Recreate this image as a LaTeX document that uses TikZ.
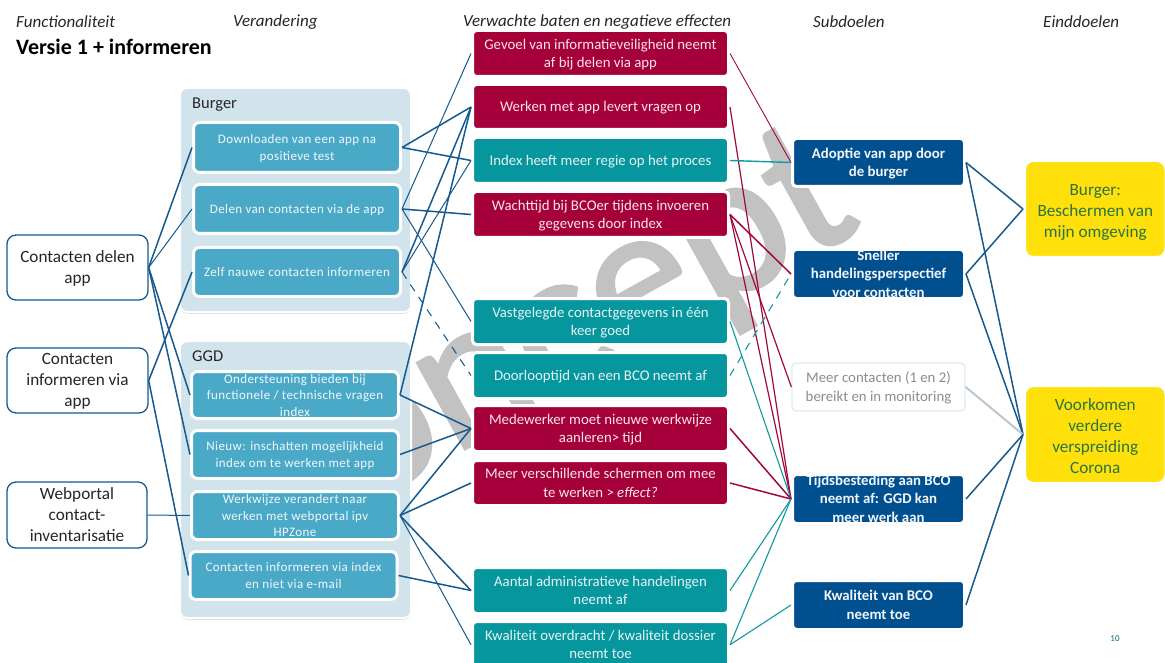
\documentclass[tikz,border=0pt]{standalone}
\usepackage{fontspec}
\setmainfont{Carlito}
\newfontfamily\wm[FakeBold=1.6]{Carlito}
\newfontfamily\spaced[LetterSpace=3]{Carlito}
\usetikzlibrary{shadows}
\definecolor{linkblue}{HTML}{15598F}
\definecolor{linkred}{HTML}{A3063F}
\definecolor{linkteal}{HTML}{0E9AA0}
\definecolor{itemblue}{HTML}{4BA9C8}
\definecolor{wine}{HTML}{A5003A}
\definecolor{tealbox}{HTML}{05969E}
\definecolor{navy}{HTML}{00508F}
\definecolor{sun}{HTML}{FFE00B}
\definecolor{sunink}{HTML}{2B7440}
\definecolor{groupbg}{HTML}{D1E3EB}
\definecolor{mark}{HTML}{C2C2C2}
\definecolor{pale}{HTML}{DCEBF1}
\def\vcshift{1.2pt}
\newcommand\vc[1]{\vbox to 0pt{\vss\hbox{\begin{tabular}{@{}c@{}}#1\end{tabular}}\vss\kern-2\dimexpr\vcshift\relax}}
\newcommand\mk[7]{\node[#1,minimum width={(#5-#3)*1pt},minimum height={(#6-#4)*1pt}] (#2) at ({(#3+#5)/2},{(#4+#6)/2}) {\vc{#7}};}
\tikzset{
  softshadow/.style={drop shadow={shadow xshift=0pt,shadow yshift=-1.5pt,fill=black!45,opacity=.45}},
  basebox/.style={rectangle,rounded corners=4pt,inner sep=0pt,align=center},
  sourcebox/.style={basebox,rounded corners=9pt,draw=linkblue,line width=1.3pt,fill=white,text=black!85,font=\fontsize{17.2}{21}\selectfont},
  groupbox/.style={basebox,rounded corners=7pt,draw=white,line width=2pt,fill=groupbg,softshadow},
  itembox/.style={basebox,rounded corners=6pt,draw=white,line width=3pt,fill=itemblue,softshadow,text=white!92!itemblue,font=\fontsize{13}{16.5}\spaced\selectfont},
  redbox/.style={basebox,draw=white,line width=3pt,fill=wine,softshadow,text=white!90!wine,font=\fontsize{14.8}{18.5}\selectfont},
  greenbox/.style={basebox,draw=white,line width=3pt,fill=tealbox,softshadow,text=white!90!tealbox,font=\fontsize{14.8}{18.5}\selectfont},
  subbox/.style={basebox,draw=white,line width=3pt,fill=navy,softshadow,text=white!95!navy,font=\fontsize{14.8}{18.5}\bfseries\selectfont},
  palebox/.style={basebox,draw=pale,line width=1.3pt,fill=white,text=black!45,font=\fontsize{14.8}{18.5}\selectfont},
  goalbox/.style={basebox,rounded corners=9pt,draw=white,line width=3pt,fill=sun,softshadow,text=sunink,font=\fontsize{17.2}{21}\selectfont,execute at begin node={\def\vcshift{3pt}}},
  headtext/.style={anchor=west,inner sep=0pt,text=black!85,font=\fontsize{17}{19}\itshape\selectfont},
  bl/.style={draw=linkblue,line width=1.5pt},
  blt/.style={draw=linkblue,line width=1pt},
  rd/.style={draw=linkred,line width=1.2pt},
  tl/.style={draw=linkteal,line width=1.1pt}
}
\begin{document}
\begin{tikzpicture}[x=1pt,y=-1pt]
\useasboundingbox (0,0) rectangle (1165,663);
\clip (0,0) rectangle (1165,663);
\node[rotate=29,text=mark,inner sep=0pt,font=\fontsize{205}{205}\wm\selectfont] (watermark) at (540,350) {Concept};
\node[headtext] (h1) at (16,22) {Functionaliteit};
\node[headtext] (h2) at (233,22) {Verandering};
\node[headtext] (h3) at (463,22) {Verwachte baten en negatieve effecten};
\node[headtext] (h4) at (813,22) {Subdoelen};
\node[headtext] (h5) at (1043,22) {Einddoelen};
\node[anchor=west,inner sep=0pt,font=\fontsize{22}{26}\bfseries\selectfont] (title) at (16,47) {Versie 1 + informeren};
\node[inner sep=0pt,text=linkteal!70!black,font=\fontsize{9}{11}\selectfont] (pagenr) at (1115,639) {10};

\mk{groupbox}{gb}{180}{88}{411}{312}{}
\mk{groupbox}{gg}{180}{341}{411}{618}{}
\node[anchor=west,inner sep=0pt,text=black!85,font=\fontsize{16.5}{18}\selectfont] (gbt) at (192,105) {Burger};
\node[anchor=west,inner sep=0pt,text=black!85,font=\fontsize{16.5}{18}\selectfont] (ggt) at (192,356) {GGD};

\mk{sourcebox}{sa}{7}{235}{148}{300}{Contacten delen\\app}
\mk{sourcebox}{sb}{7}{348}{148}{413}{Contacten\\informeren via\\app}
\mk{sourcebox}{sc}{7}{482}{147}{548}{Webportal\\contact-\\inventarisatie}

\mk{itembox}{b1}{193.5}{122.5}{400.5}{172.5}{Downloaden van een app na\\positieve test}
\mk{itembox}{b2}{193.5}{184.5}{400.5}{233.5}{Delen van contacten via de app}
\mk{itembox}{b3}{193.5}{247.5}{400.5}{296.5}{Zelf nauwe contacten informeren}
\mk{itembox}{g1}{191.5}{371.5}{398.5}{418.5}{Ondersteuning bieden bij\\functionele / technische vragen\\index}
\mk{itembox}{g2}{191.5}{430.5}{398.5}{478.5}{Nieuw: inschatten mogelijkheid\\index om te werken met app}
\mk{itembox}{g3}{191.5}{491.5}{398.5}{539.5}{Werkwijze verandert naar\\werken met webportal ipv\\HPZone}
\mk{itembox}{g4}{190}{551.5}{397}{599.5}{Contacten informeren via index\\en niet via e-mail}

\mk{redbox}{m1}{472.5}{30.5}{728.5}{76.5}{Gevoel van informatieveiligheid neemt\\af bij delen via app}
\mk{redbox}{m2}{472.5}{84.5}{728.5}{129.5}{Werken met app levert vragen op}
\mk{greenbox}{m3}{472.5}{137.5}{728.5}{183.5}{Index heeft meer regie op het proces}
\mk{redbox}{m4}{472.5}{191.5}{728.5}{237.5}{Wachttijd bij BCOer tijdens invoeren\\gegevens door index}
\mk{greenbox}{m5}{472.5}{298.5}{728.5}{344.5}{Vastgelegde contactgegevens in één\\keer goed}
\mk{greenbox}{m6}{472.5}{352.5}{728.5}{398.5}{Doorlooptijd van een BCO neemt af}
\mk{redbox}{m7}{472.5}{405.5}{728.5}{451.5}{Medewerker moet nieuwe werkwijze\\aanleren> tijd}
\mk{redbox}{m8}{472.5}{460.5}{728.5}{505.5}{Meer verschillende schermen om mee\\te werken > \textit{effect?}}
\mk{greenbox}{m9}{472.5}{567.5}{728.5}{613.5}{Aantal administratieve handelingen\\neemt af}
\mk{greenbox}{m10}{472.5}{621.5}{728.5}{668}{Kwaliteit overdracht / kwaliteit dossier\\neemt toe}

\mk{subbox}{d1}{792.5}{138.5}{964.5}{186.5}{Adoptie van app door\\de burger}
\mk{subbox}{d2}{792.5}{249.5}{964.5}{298.5}{Sneller\\handelingsperspectief\\voor contacten}
\mk{palebox}{d3}{792}{363}{965}{411}{Meer contacten (1 en 2)\\bereikt en in monitoring}
\mk{subbox}{d4}{792.5}{474.5}{964.5}{523.5}{Tijdsbesteding aan BCO\\neemt af: GGD kan\\meer werk aan}
\mk{subbox}{d5}{792.5}{580.5}{964.5}{629.5}{Kwaliteit van BCO\\neemt toe}

\mk{goalbox}{e1}{1024.5}{160.5}{1166}{257.5}{Burger:\\Beschermen van\\mijn omgeving}
\mk{goalbox}{e2}{1024.5}{385.5}{1166}{483.5}{Voorkomen\\verdere\\verspreiding\\Corona}

\draw[bl] (sa.east) -- (b1.west);
\draw[blt] (sa.east) -- (b2.west);
\draw[bl] (sa.east) -- (g1.west);
\draw[bl] (sa.east) -- (g2.west);
\draw[bl] (sb.east) -- (b3.west);
\draw[bl] (sb.east) -- (g4.west);
\draw[blt] (sc.east) -- (g3.west);

\draw[bl] (b1.east) -- (m2.west);
\draw[bl] (b1.east) -- (m3.west);
\draw[blt] (b2.east) -- (m1.west);
\draw[bl] (b2.east) -- (m4.west);
\draw[blt] (b2.east) -- (m5.west);
\draw[bl] (b3.east) -- (m2.west);
\draw[blt] (b3.east) -- (m3.west);
\draw[blt,dashed,dash pattern=on 8pt off 7pt] (b3.east) -- (m6.west);
\draw[bl] (g1.east) -- (m2.west);
\draw[bl] (g1.east) -- (m7.west);
\draw[bl] (g2.east) -- (m7.west);
\draw[bl] (g3.east) -- (m7.west);
\draw[bl] (g3.east) -- (m8.west);
\draw[bl] (g3.east) -- (m9.west);
\draw[blt] (g3.east) -- (m10.west);
\draw[bl] (g4.east) -- (m9.west);

\draw[rd,line width=.9pt] (m1.east) -- (d1.west);
\draw[rd] (m2.east) -- (d4.west);
\draw[tl,line width=1.4pt] (m3.east) -- (d1.west);
\draw[rd,line width=1.5pt] (m4.east) -- (d2.west);
\draw[rd] (m4.east) -- (d3.west);
\draw[rd] (m4.east) -- (d4.west);
\draw[tl] (m5.east) -- (d4.west);
\draw[tl,dashed,dash pattern=on 8pt off 7pt] (m6.east) -- (d2.west);
\draw[rd,line width=1.5pt] (m7.east) -- (d4.west);
\draw[rd,line width=1.5pt] (m8.east) -- (d4.west);
\draw[tl] (m9.east) -- (d4.west);
\draw[tl] (m10.east) -- (d4.west);
\draw[tl] (m10.east) -- (d5.west);

\draw[bl] (d1.east) -- (e1.west);
\draw[bl] (d1.east) -- (e2.west);
\draw[bl] (d2.east) -- (e1.west);
\draw[bl] (d2.east) -- (e2.west);
\draw[draw=pale!85!black,line width=2pt] (d3.east) -- (e2.west);
\draw[bl] (d4.east) -- (e2.west);
\draw[bl] (d5.east) -- (e2.west);
\end{tikzpicture}
\end{document}
